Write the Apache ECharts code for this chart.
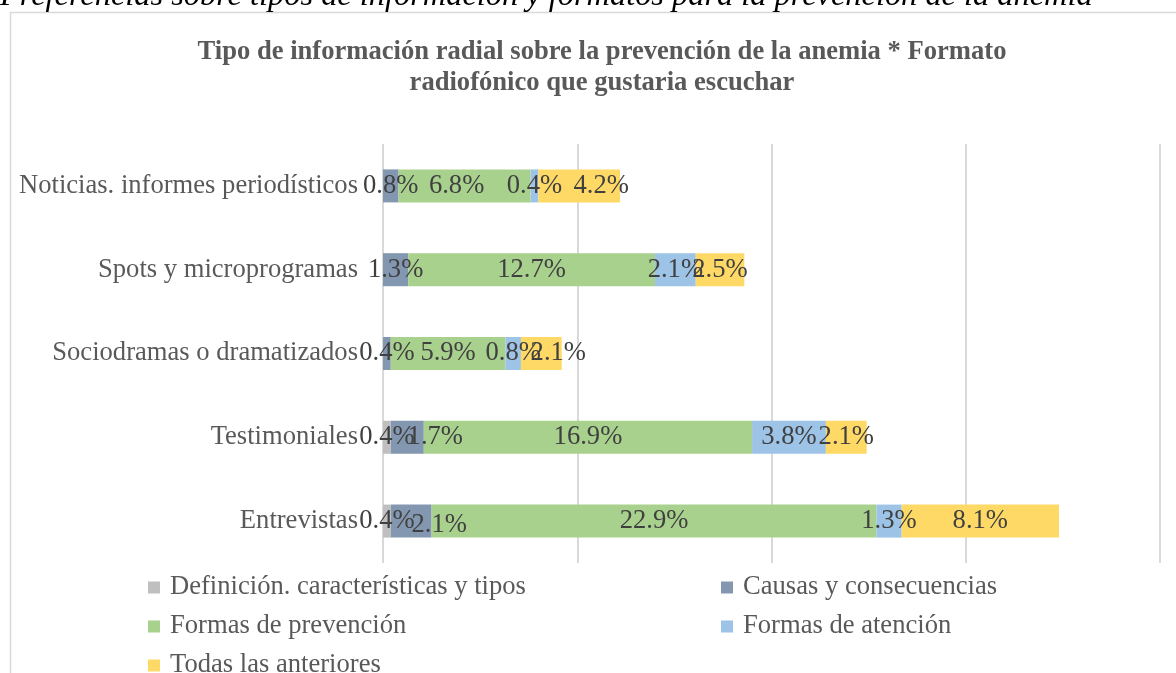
<!DOCTYPE html>
<html>
<head>
<meta charset="utf-8">
<script src="https://cdn.jsdelivr.net/npm/echarts@6/dist/echarts.min.js"></script>
<style>
  html, body { margin: 0; padding: 0; background: #fff; }
  #chart { width: 1176px; height: 673px; }
</style>
</head>
<body>
<div id="chart"></div>
<script>
// categories listed bottom to top (Excel draws the first one at the bottom)
const categories = ['Entrevistas', 'Testimoniales', 'Sociodramas o dramatizados', 'Spots y microprogramas', 'Noticias. informes periodísticos']

const seriesNames = [
  'Definición. características y tipos',
  'Causas y consecuencias',
  'Formas de prevención',
  'Formas de atención',
  'Todas las anteriores'
]

const definicion = [0.4, 0.4, 0, 0, 0]
const causas = [2.1, 1.7, 0.4, 1.3, 0.8]
const prevencion = [22.9, 16.9, 5.9, 12.7, 6.8]
const atencion = [1.3, 3.8, 0.8, 2.1, 0.4]
const todas = [8.1, 2.1, 2.1, 2.5, 4.2]

const seriesValues = [definicion, causas, prevencion, atencion, todas]
const colors = ['#bfbfbf', '#8497b0', '#a9d18e', '#9dc3e6', '#ffd966']

// Excel nudged a few crowded labels sideways: [series, category, dx, dy]
const labelNudges = [
  [1, 0, 28, 4],
  [1, 1, 28, 0],
  [2, 4, -8, 0],
  [4, 2, 17, 0],
  [4, 4, 22, 0]
]

const serif = '"Liberation Serif", "Times New Roman", serif'
const fs = 26.6

const chart = echarts.init(document.getElementById('chart'))

const legendText = { fontFamily: serif, fontSize: fs, color: '#595959', lineHeight: 27, padding: [0, 0, 0, 5] }

const buildData = (si) => seriesValues[si].map((v, ci) => {
  const nudge = labelNudges.find(n => n[0] === si && n[1] === ci)
  if (!nudge) return v
  return { value: v, label: { offset: [nudge[2], nudge[3]] } }
})

const option = {
  animation: false,
  color: colors,
  title: {
    text: 'Tipo de información radial sobre la prevención de la anemia * Formato\nradiofónico que gustaria escuchar',
    left: 597,
    top: 32,
    textAlign: 'center',
    textStyle: {
      fontFamily: serif,
      fontSize: fs,
      fontWeight: 'bold',
      color: '#595959',
      lineHeight: 31
    }
  },
  graphic: [
    {
      type: 'rect',
      shape: { x: 10.5, y: 12.5, width: 1180, height: 700 },
      style: { fill: 'none', stroke: '#d9d9d9', lineWidth: 1.5 },
      silent: true
    },
    {
      type: 'text',
      left: 0,
      top: -20,
      style: {
        text: 'Preferencias sobre tipos de información y formatos para la prevención de la anemia',
        font: 'italic 32.4px ' + serif,
        fill: '#000'
      }
    }
  ],
  legend: [
    {
      orient: 'vertical',
      left: 143,
      top: 569,
      height: 200,
      itemWidth: 12,
      itemHeight: 12,
      itemGap: 12,
      icon: 'rect',
      data: [seriesNames[0], seriesNames[2], seriesNames[4]],
      textStyle: legendText
    },
    {
      orient: 'vertical',
      left: 716,
      top: 569,
      height: 200,
      itemWidth: 12,
      itemHeight: 12,
      itemGap: 12,
      icon: 'rect',
      data: [seriesNames[1], seriesNames[3]],
      textStyle: legendText
    }
  ],
  grid: {
    left: 383,
    right: 16,
    top: 144,
    bottom: 110
  },
  xAxis: {
    type: 'value',
    min: 0,
    max: 40,
    interval: 10,
    axisLabel: { show: false },
    axisLine: { show: false },
    axisTick: { show: false },
    splitLine: { lineStyle: { color: '#d9d9d9', width: 2 } }
  },
  yAxis: {
    type: 'category',
    data: categories,
    axisLine: { show: false },
    axisTick: { show: false },
    axisLabel: {
      margin: 25,
      fontFamily: serif,
      fontSize: fs,
      color: '#595959'
    }
  },
  series: seriesNames.map((name, i) => ({
    name: name,
    type: 'bar',
    stack: 'total',
    barWidth: 33,
    data: buildData(i),
    label: {
      show: true,
      position: 'inside',
      fontFamily: serif,
      fontSize: fs,
      color: '#404040',
      formatter: p => (p.value ? p.value.toFixed(1) + '%' : '')
    }
  }))
}

chart.setOption(option)
</script>
</body>
</html>
